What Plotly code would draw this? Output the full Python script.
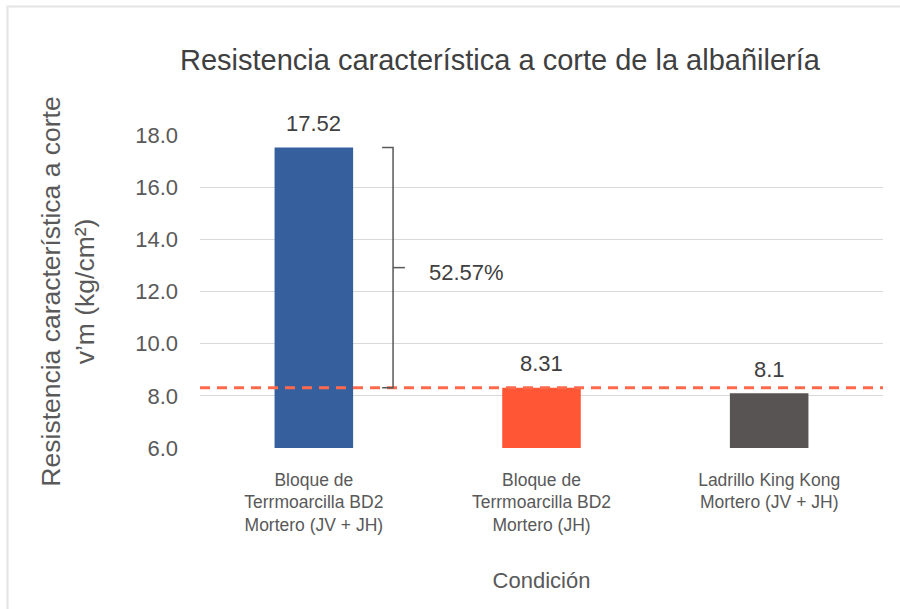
import plotly.graph_objects as go

categories = ["Bloque de<br>Terrmoarcilla BD2<br>Mortero (JV + JH)",
              "Bloque de<br>Terrmoarcilla BD2<br>Mortero (JH)",
              "Ladrillo King Kong<br>Mortero (JV + JH)"]
values = [17.52, 8.31, 8.1]
labels = ["17.52", "8.31", "8.1"]
colors = ["#365F9E", "#FF5736", "#585453"]
reference_value = 8.31
difference_label = "52.57%"
y_ticks = [6, 8, 10, 12, 14, 16, 18]

W, H = 900, 609
L, R, T, B = 200, 17, 135, 161
pw = W - L - R
ph = H - T - B

def px(xpix):
    return (xpix - L) / pw

def py(ypix):
    return (H - B - ypix) / ph

FONT = "Liberation Sans"
fig = go.Figure()
fig.add_trace(go.Bar(
    x=list(range(len(categories))), y=values,
    marker=dict(color=colors, line=dict(width=0)),
    cliponaxis=False, width=0.345, hoverinfo="skip",
))

# data labels
for i, (v, t) in enumerate(zip(values, labels)):
    fig.add_annotation(x=i, y=v, xref="x", yref="y", text=t, showarrow=False,
                       xanchor="center", yanchor="middle", yshift=24,
                       font=dict(size=22, color="#404040", family=FONT))

# reference dashed line
fig.add_shape(type="line", xref="paper", yref="y", x0=0, x1=1,
              y0=reference_value, y1=reference_value,
              line=dict(color="#FF6A4D", width=3, dash="10px,7px"))

# bracket
bx = 0.348
fig.add_shape(type="path", xref="x", yref="y",
              path=f"M {0.30} {values[0]} L {bx} {values[0]} L {bx} {reference_value} L {0.30} {reference_value}",
              line=dict(color="#595959", width=1.5))
ymid = (values[0] + reference_value) / 2
fig.add_shape(type="line", xref="x", yref="y", x0=bx, x1=0.40, y0=ymid, y1=ymid,
              line=dict(color="#595959", width=1.5))
fig.add_annotation(x=0.497, y=ymid, xref="x", yref="y", text=difference_label,
                   showarrow=False, xanchor="left", yanchor="middle", yshift=-5,
                   font=dict(size=22, color="#404040", family=FONT))

# title
fig.add_annotation(x=px(500), y=py(60), xref="paper", yref="paper",
                   text="Resistencia característica a corte de la albañilería",
                   showarrow=False, xanchor="center", yanchor="middle",
                   font=dict(size=29, color="#404040", family=FONT))

# frame
fig.add_shape(type="rect", xref="paper", yref="paper",
              x0=px(7.5), x1=px(905), y0=py(615), y1=py(6.5),
              line=dict(color="#E4E4E4", width=2), layer="below")

fig.update_layout(
    width=W, height=H,
    margin=dict(l=L, r=R, t=T, b=B, pad=0),
    paper_bgcolor="white", plot_bgcolor="white",
    showlegend=False,
    font=dict(family=FONT, color="#595959"),
    xaxis=dict(
        tickmode="array", tickvals=list(range(len(categories))), ticktext=categories,
        range=[-0.5, 2.5], showgrid=False, zeroline=False, showline=False,
        ticks="", ticklabelstandoff=19, tickfont=dict(size=17.5, color="#595959"),
        title=dict(text="Condición", font=dict(size=22, color="#595959"), standoff=38),
    ),
    yaxis=dict(
        range=[6, 18], tickvals=y_ticks, ticktext=[f"{v:.1f}" for v in y_ticks],
        showgrid=True, gridcolor="#D9D9D9", gridwidth=1.3, zeroline=False,
        showline=False, ticks="", ticklabelstandoff=21,
        tickfont=dict(size=22, color="#595959"),
        title=dict(text="Resistencia característica a corte<br>v’m (kg/cm²)",
                   font=dict(size=26.5, color="#595959"), standoff=32),
    ),
)

fig.write_html("out.html", config={"displayModeBar": False},
               post_script="document.body.style.margin='0';document.body.style.overflow='hidden';")
